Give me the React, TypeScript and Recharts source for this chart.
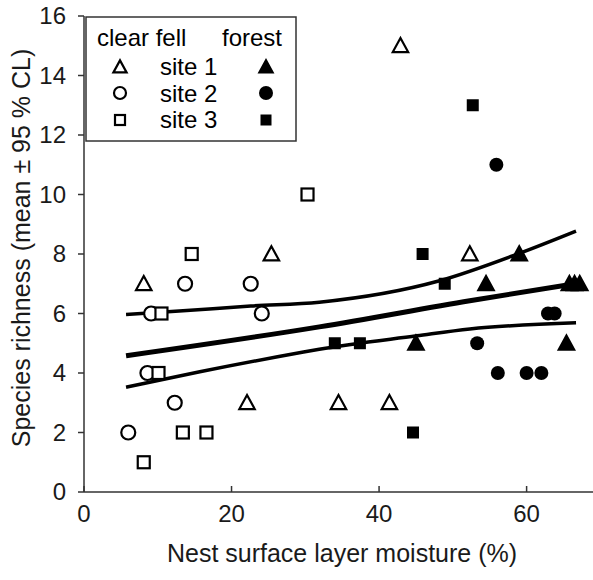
import { ComposedChart, Scatter, Line, XAxis, YAxis } from 'recharts';

// clear fell (open markers)
const clearFellSite1 = [
  { x: 8.1, y: 7 }, { x: 22.1, y: 3 }, { x: 25.4, y: 8 }, { x: 34.5, y: 3 },
  { x: 41.4, y: 3 }, { x: 42.9, y: 15 }, { x: 52.3, y: 8 },
];
const clearFellSite2 = [
  { x: 6.0, y: 2 }, { x: 8.6, y: 4 }, { x: 9.1, y: 6 }, { x: 12.3, y: 3 },
  { x: 13.7, y: 7 }, { x: 22.6, y: 7 }, { x: 24.1, y: 6 },
];
const clearFellSite3 = [
  { x: 8.1, y: 1 }, { x: 10.1, y: 4 }, { x: 10.5, y: 6 }, { x: 13.4, y: 2 },
  { x: 14.6, y: 8 }, { x: 16.6, y: 2 }, { x: 30.3, y: 10 },
];
// forest (filled markers)
const forestSite1 = [
  { x: 45.0, y: 5 }, { x: 54.5, y: 7 }, { x: 59.0, y: 8 }, { x: 65.4, y: 5 },
  { x: 65.8, y: 7 }, { x: 66.5, y: 7 }, { x: 67.2, y: 7 },
];
const forestSite2 = [
  { x: 53.3, y: 5 }, { x: 55.9, y: 11 }, { x: 56.1, y: 4 }, { x: 60.0, y: 4 },
  { x: 62.0, y: 4 }, { x: 62.9, y: 6 }, { x: 63.8, y: 6 },
];
const forestSite3 = [
  { x: 34.0, y: 5 }, { x: 37.4, y: 5 }, { x: 44.6, y: 2 }, { x: 45.9, y: 8 },
  { x: 48.9, y: 7 }, { x: 52.7, y: 13 },
];

// regression line and 95 % confidence limits
const fitMean = [
  { x: 5.7, y: 4.58 }, { x: 31.9, y: 5.55 }, { x: 52.3, y: 6.43 }, { x: 67.0, y: 7.02 },
];
const fitUpper = [
  { x: 5.7, y: 5.97 }, { x: 12.9, y: 6.08 }, { x: 22.6, y: 6.25 }, { x: 31.9, y: 6.38 },
  { x: 48.2, y: 7.1 }, { x: 59.0, y: 8.02 }, { x: 66.7, y: 8.77 },
];
const fitLower = [
  { x: 5.7, y: 3.52 }, { x: 15.7, y: 4.04 }, { x: 29.2, y: 4.68 }, { x: 31.9, y: 4.8 },
  { x: 45.1, y: 5.25 }, { x: 52.3, y: 5.48 }, { x: 66.7, y: 5.69 },
];

const xTicks = [0, 20, 40, 60];
const yTicks = [0, 2, 4, 6, 8, 10, 12, 14, 16];

const FONT = 'Arial, "Liberation Sans", sans-serif';
const INK = '#000';

const triangle = (cx: number, cy: number, s: number) =>
  `M${cx},${cy - s * 0.55} L${cx + s * 0.55},${cy + s * 0.45} L${cx - s * 0.55},${cy + s * 0.45} Z`;

const Tri = (filled: boolean, s = 14) => (p: any) => (
  <path d={triangle(p.cx, p.cy, s)} fill={filled ? INK : '#fff'} stroke={INK} strokeWidth={2.2} strokeLinejoin="miter" />
);
const Circ = (filled: boolean, r = 7) => (p: any) => (
  <circle cx={p.cx} cy={p.cy} r={r} fill={filled ? INK : '#fff'} stroke={INK} strokeWidth={filled ? 0 : 2.2} />
);
const Sq = (filled: boolean, s = 12) => (p: any) => (
  <rect x={p.cx - s / 2} y={p.cy - s / 2} width={s} height={s} fill={filled ? INK : '#fff'} stroke={INK} strokeWidth={filled ? 0 : 2.2} />
);

const YTick = (p: any) => (
  <text x={p.x} y={p.y} dy={8} textAnchor="end" fontFamily={FONT} fontSize={24} fill="#1a1a1a">
    {p.payload.value}
  </text>
);
const XTick = (p: any) => (
  <text x={p.x} y={p.y} dy={24} textAnchor="middle" fontFamily={FONT} fontSize={24} fill="#1a1a1a">
    {p.payload.value}
  </text>
);

function LegendBox() {
  const rows = [
    { label: 'site 1', y: 75, open: Tri(false, 12), filled: Tri(true, 12), my: 67 },
    { label: 'site 2', y: 102, open: Circ(false, 6), filled: Circ(true, 7), my: 93 },
    { label: 'site 3', y: 128, open: Sq(false, 10), filled: Sq(true, 11), my: 120 },
  ];
  return (
    <g>
      <rect x={86} y={17} width={210} height={124} fill="#fff" stroke="#333" strokeWidth={1.5} />
      <text x={97} y={46} fontFamily={FONT} fontSize={24} fill={INK}>clear fell</text>
      <text x={222} y={46} fontFamily={FONT} fontSize={24} fill={INK}>forest</text>
      {rows.map((r) => (
        <g key={r.label}>
          {r.open({ cx: 120, cy: r.my })}
          <text x={160} y={r.y} fontFamily={FONT} fontSize={24} fill={INK}>{r.label}</text>
          {r.filled({ cx: 266, cy: r.my })}
        </g>
      ))}
    </g>
  );
}

export default function App() {
  return (
    <div style={{ position: 'absolute', left: 0, top: 0, width: 593, height: 580, background: '#fff' }}>
      <ComposedChart width={593} height={580} margin={{ top: 16, right: 0, left: 0, bottom: 0 }}>
        <XAxis
          type="number"
          dataKey="x"
          domain={[0, 69]}
          ticks={xTicks}
          allowDataOverflow
          height={88}
          tickSize={-6}
          tickMargin={12}
          tick={XTick}
          axisLine={{ stroke: '#333', strokeWidth: 1.5 }}
          tickLine={{ stroke: '#333', strokeWidth: 1.5 }}
        />
        <YAxis
          type="number"
          dataKey="y"
          domain={[0, 16]}
          ticks={yTicks}
          width={84}
          tickSize={6}
          tickMargin={12}
          tick={YTick}
          axisLine={{ stroke: '#333', strokeWidth: 1.5 }}
          tickLine={{ stroke: '#333', strokeWidth: 1.5 }}
        />
        <Line data={fitUpper} dataKey="y" type="monotone" stroke={INK} strokeWidth={3.5} dot={false} activeDot={false} isAnimationActive={false} />
        <Line data={fitLower} dataKey="y" type="monotone" stroke={INK} strokeWidth={3.5} dot={false} activeDot={false} isAnimationActive={false} />
        <Line data={fitMean} dataKey="y" type="monotone" stroke={INK} strokeWidth={5} dot={false} activeDot={false} isAnimationActive={false} />
        <Scatter data={clearFellSite1} dataKey="y" shape={Tri(false)} isAnimationActive={false} />
        <Scatter data={clearFellSite2} dataKey="y" shape={Circ(false)} isAnimationActive={false} />
        <Scatter data={clearFellSite3} dataKey="y" shape={Sq(false)} isAnimationActive={false} />
        <Scatter data={forestSite1} dataKey="y" shape={Tri(true)} isAnimationActive={false} />
        <Scatter data={forestSite2} dataKey="y" shape={Circ(true)} isAnimationActive={false} />
        <Scatter data={forestSite3} dataKey="y" shape={Sq(true)} isAnimationActive={false} />
      </ComposedChart>
      <svg width={593} height={580} style={{ position: 'absolute', left: 0, top: 0, pointerEvents: 'none' }}>
        <LegendBox />
        <text x={342} y={562} textAnchor="middle" fontFamily={FONT} fontSize={25} fill="#1a1a1a">
          Nest surface layer moisture (%)
        </text>
        <text
          transform="translate(30,248) rotate(-90)"
          textAnchor="middle"
          fontFamily={FONT}
          fontSize={25}
          fill="#1a1a1a"
        >
          Species richness (mean ± 95 % CL)
        </text>
      </svg>
    </div>
  );
}
